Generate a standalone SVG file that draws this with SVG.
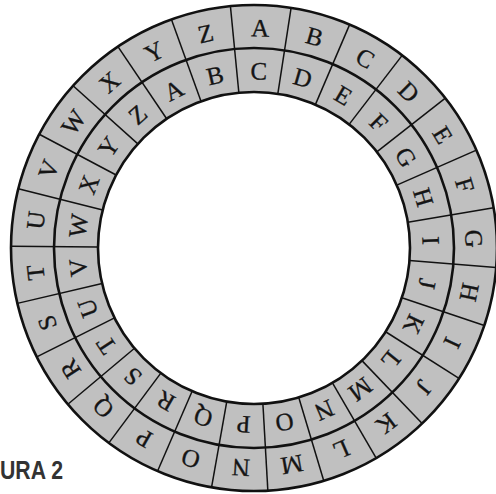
<svg xmlns="http://www.w3.org/2000/svg" width="496" height="494" viewBox="0 0 496 494">
<style>
.ring{fill:#c0c0c0;stroke:none}
.hole{fill:#ffffff;stroke:none}
.circ{fill:none;stroke:#111;stroke-width:2.6}
.div line{stroke:#111;stroke-width:1.5}
.lt{font-family:"Liberation Serif","Times New Roman",serif;font-size:25px;fill:#151515;stroke:#151515;stroke-width:0.3;text-anchor:middle;dominant-baseline:central}
.cap{font-family:"Liberation Sans",Arial,sans-serif;font-weight:bold;font-size:25px;fill:#333}
</style>
<rect width="496" height="494" fill="#ffffff"/>
<g id="wheel" transform="translate(254,248)">
  <circle class="ring" r="243"/>
  <circle class="hole" r="156"/>
  <g id="connectors" class="div">
    <line y1="-156" y2="-243" transform="rotate(-5.57)"/>
    <line y1="-156" y2="-243" transform="rotate(8.78)"/>
    <line y1="-156" y2="-243" transform="rotate(23.17)"/>
    <line y1="-156" y2="-243" transform="rotate(37.57)"/>
    <line y1="-156" y2="-243" transform="rotate(51.94)"/>
    <line y1="-156" y2="-243" transform="rotate(66.25)"/>
    <line y1="-156" y2="-243" transform="rotate(80.47)"/>
    <line y1="-156" y2="-243" transform="rotate(94.6)"/>
    <line y1="-156" y2="-243" transform="rotate(108.6)"/>
    <line y1="-156" y2="-243" transform="rotate(122.47)"/>
    <line y1="-156" y2="-243" transform="rotate(136.21)"/>
    <line y1="-156" y2="-243" transform="rotate(149.81)"/>
    <line y1="-156" y2="-243" transform="rotate(163.32)"/>
    <line y1="-156" y2="-243" transform="rotate(176.73)"/>
    <line y1="-156" y2="-243" transform="rotate(190.06)"/>
    <line y1="-156" y2="-243" transform="rotate(203.37)"/>
    <line y1="-156" y2="-243" transform="rotate(216.67)"/>
    <line y1="-156" y2="-243" transform="rotate(229.99)"/>
    <line y1="-156" y2="-243" transform="rotate(243.37)"/>
    <line y1="-156" y2="-243" transform="rotate(256.83)"/>
    <line y1="-156" y2="-243" transform="rotate(270.4)"/>
    <line y1="-156" y2="-243" transform="rotate(284.1)"/>
    <line y1="-156" y2="-243" transform="rotate(297.91)"/>
    <line y1="-156" y2="-243" transform="rotate(311.87)"/>
    <line y1="-156" y2="-243" transform="rotate(325.95)"/>
    <line y1="-156" y2="-243" transform="rotate(340.14)"/>
  </g>
  <g id="circles">
    <circle class="circ" r="243"/>
    <circle class="circ" r="200"/>
    <circle class="circ" r="156"/>
  </g>
  <g id="outer-ring">
    <text class="lt" transform="rotate(1.6) translate(0,-220)">A</text>
    <text class="lt" transform="rotate(15.98) translate(0,-220)">B</text>
    <text class="lt" transform="rotate(30.37) translate(0,-220)">C</text>
    <text class="lt" transform="rotate(44.76) translate(0,-220)">D</text>
    <text class="lt" transform="rotate(59.1) translate(0,-220)">E</text>
    <text class="lt" transform="rotate(73.37) translate(0,-220)">F</text>
    <text class="lt" transform="rotate(87.56) translate(0,-220)">G</text>
    <text class="lt" transform="rotate(101.61) translate(0,-220)">H</text>
    <text class="lt" transform="rotate(115.55) translate(0,-220)">I</text>
    <text class="lt" transform="rotate(129.36) translate(0,-220)">J</text>
    <text class="lt" transform="rotate(143.03) translate(0,-220)">K</text>
    <text class="lt" transform="rotate(156.58) translate(0,-220)">L</text>
    <text class="lt" transform="rotate(170.03) translate(0,-220)">M</text>
    <text class="lt" transform="rotate(183.4) translate(0,-220)">N</text>
    <text class="lt" transform="rotate(196.72) translate(0,-220)">O</text>
    <text class="lt" transform="rotate(210.01) translate(0,-220)">P</text>
    <text class="lt" transform="rotate(223.32) translate(0,-220)">Q</text>
    <text class="lt" transform="rotate(236.66) translate(0,-220)">R</text>
    <text class="lt" transform="rotate(250.09) translate(0,-220)">S</text>
    <text class="lt" transform="rotate(263.6) translate(0,-220)">T</text>
    <text class="lt" transform="rotate(277.23) translate(0,-220)">U</text>
    <text class="lt" transform="rotate(290.99) translate(0,-220)">V</text>
    <text class="lt" transform="rotate(304.88) translate(0,-220)">W</text>
    <text class="lt" transform="rotate(318.89) translate(0,-220)">X</text>
    <text class="lt" transform="rotate(333.04) translate(0,-220)">Y</text>
    <text class="lt" transform="rotate(347.27) translate(0,-220)">Z</text>
  </g>
  <g id="inner-ring">
    <text class="lt" transform="rotate(1.6) translate(0,-177)">C</text>
    <text class="lt" transform="rotate(15.98) translate(0,-177)">D</text>
    <text class="lt" transform="rotate(30.37) translate(0,-177)">E</text>
    <text class="lt" transform="rotate(44.76) translate(0,-177)">F</text>
    <text class="lt" transform="rotate(59.1) translate(0,-177)">G</text>
    <text class="lt" transform="rotate(73.37) translate(0,-177)">H</text>
    <text class="lt" transform="rotate(87.56) translate(0,-177)">I</text>
    <text class="lt" transform="rotate(101.61) translate(0,-177)">J</text>
    <text class="lt" transform="rotate(115.55) translate(0,-177)">K</text>
    <text class="lt" transform="rotate(129.36) translate(0,-177)">L</text>
    <text class="lt" transform="rotate(143.03) translate(0,-177)">M</text>
    <text class="lt" transform="rotate(156.58) translate(0,-177)">N</text>
    <text class="lt" transform="rotate(170.03) translate(0,-177)">O</text>
    <text class="lt" transform="rotate(183.4) translate(0,-177)">P</text>
    <text class="lt" transform="rotate(196.72) translate(0,-177)">Q</text>
    <text class="lt" transform="rotate(210.01) translate(0,-177)">R</text>
    <text class="lt" transform="rotate(223.32) translate(0,-177)">S</text>
    <text class="lt" transform="rotate(236.66) translate(0,-177)">T</text>
    <text class="lt" transform="rotate(250.09) translate(0,-177)">U</text>
    <text class="lt" transform="rotate(263.6) translate(0,-177)">V</text>
    <text class="lt" transform="rotate(277.23) translate(0,-177)">W</text>
    <text class="lt" transform="rotate(290.99) translate(0,-177)">X</text>
    <text class="lt" transform="rotate(304.88) translate(0,-177)">Y</text>
    <text class="lt" transform="rotate(318.89) translate(0,-177)">Z</text>
    <text class="lt" transform="rotate(333.04) translate(0,-177)">A</text>
    <text class="lt" transform="rotate(347.27) translate(0,-177)">B</text>
  </g>
</g>
<text id="caption" class="cap" x="0" y="479" textLength="63" lengthAdjust="spacingAndGlyphs">URA 2</text>
</svg>
